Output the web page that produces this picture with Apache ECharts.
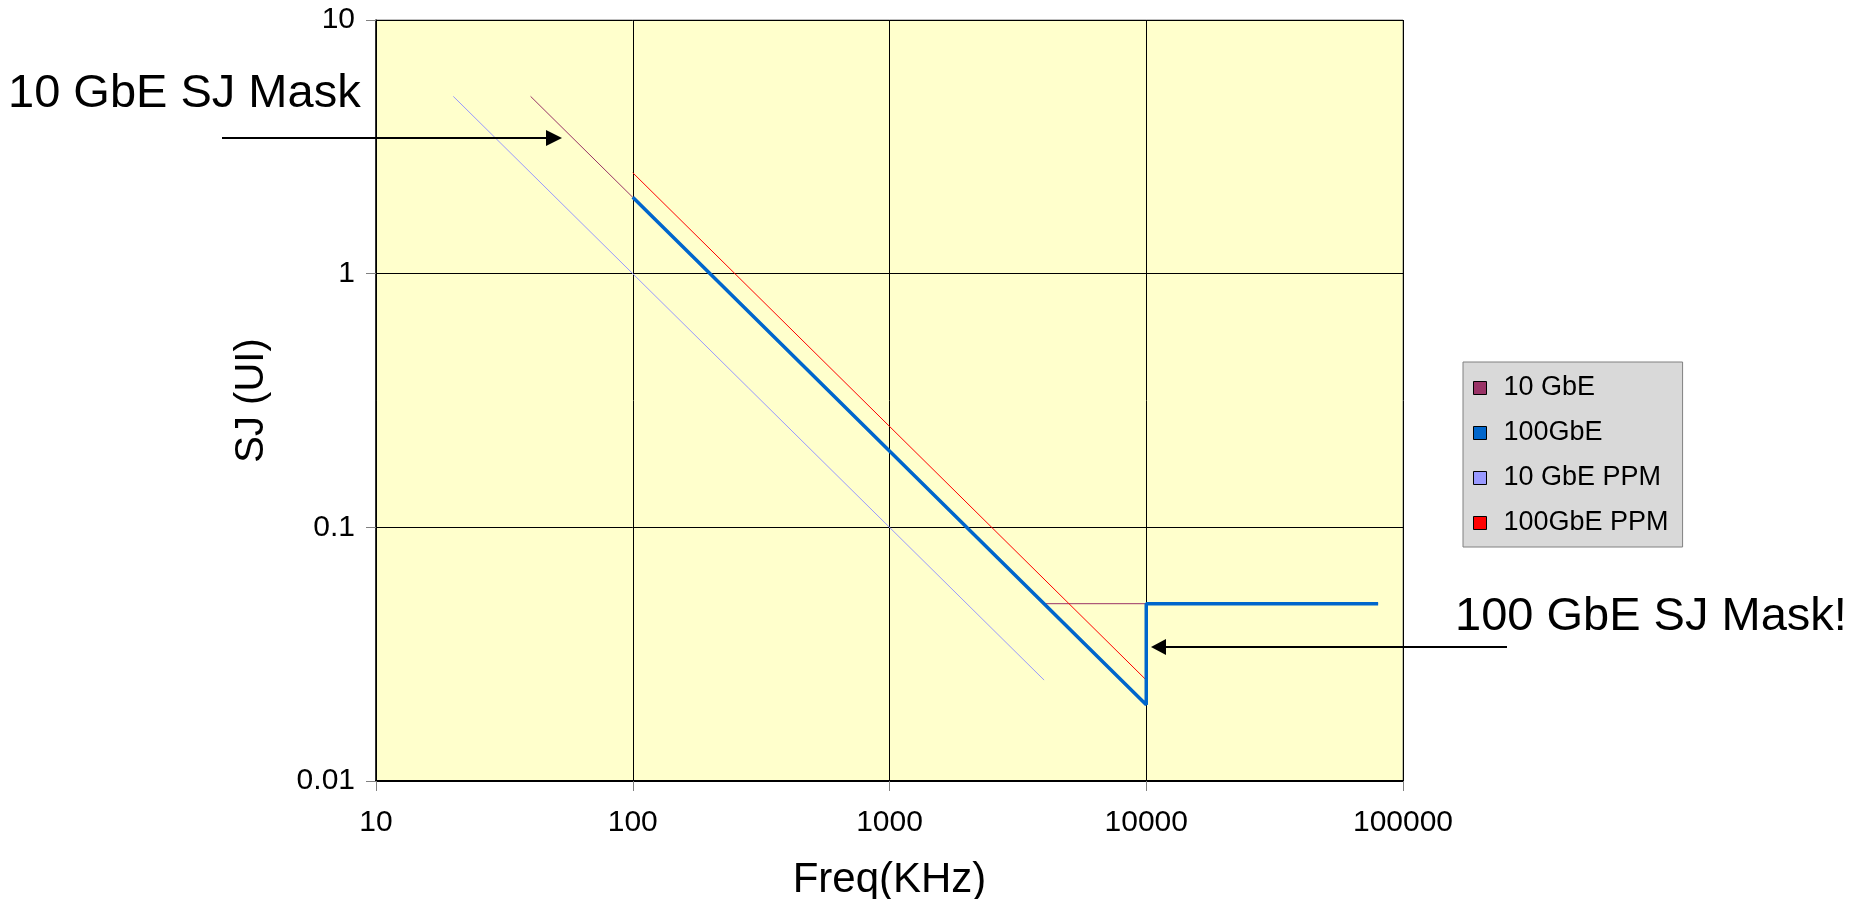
<!DOCTYPE html>
<html>
<head>
<meta charset="utf-8">
<title>SJ Mask</title>
<script src="https://cdn.jsdelivr.net/npm/echarts@6/dist/echarts.min.js"></script>
<style>
  html, body { margin: 0; padding: 0; background: #fff; }
  #chart { width: 1864px; height: 899px; }
</style>
</head>
<body>
<div id="chart"></div>
<script>
// [freq (KHz), SJ (UI)]
const gbe10 = [[40, 5], [4000, 0.05], [80000, 0.05]];
const gbe100 = [[100, 2], [10000, 0.02], [10000, 0.05], [80000, 0.05]];
const gbe10ppm = [[20, 5], [4000, 0.025]];
const gbe100ppm = [[100, 2.5], [10000, 0.025]];

const seriesNames = ['10 GbE', '100GbE', '10 GbE PPM', '100GbE PPM'];
const seriesColors = ['#993366', '#0066CC', '#9999FF', '#FF0000'];

const xTickLabels = { 1: '10', 2: '100', 3: '1000', 4: '10000', 5: '100000' };
const yTickLabels = { '-2': '0.01', '-1': '0.1', 0: '1', 1: '10' };

const FONT = '"Liberation Sans", Arial, sans-serif';

const chart = echarts.init(document.getElementById('chart'));

chart.setOption({
  animation: false,
  backgroundColor: '#fff',
  grid: {
    left: 376, right: 461, top: 20, bottom: 118,
    containLabel: false,
    outerBoundsMode: 'none',
    show: true,
    backgroundColor: '#FFFFCC',
    borderColor: '#808080',
    borderWidth: 1
  },
  legend: {
    orient: 'vertical',
    left: 1463,
    top: 362,
    data: seriesNames,
    icon: 'rect',
    itemWidth: 13,
    itemHeight: 13,
    itemGap: 17,
    padding: [12, 14, 10, 10],
    backgroundColor: '#D9D9D9',
    borderColor: '#808080',
    borderWidth: 1,
    borderRadius: 0,
    itemStyle: { borderColor: '#000', borderWidth: 1 },
    textStyle: {
      fontFamily: FONT, fontSize: 27, lineHeight: 28, color: '#000',
      padding: [0, 0, 0, 12]
    }
  },
  xAxis: {
    type: 'log',
    logBase: 10,
    min: 10,
    max: 100000,
    name: 'Freq(KHz)',
    nameLocation: 'middle',
    nameGap: 78,
    nameTextStyle: { fontFamily: FONT, fontSize: 42, color: '#000' },
    axisLine: { show: true, lineStyle: { color: '#000', width: 2 } },
    axisTick: { show: true, length: 10, lineStyle: { color: '#808080' } },
    axisLabel: {
      fontFamily: FONT, fontSize: 30, color: '#000', margin: 27,
      formatter: v => xTickLabels[Math.round(Math.log10(v))]
    },
    splitLine: { show: true, lineStyle: { color: '#000', width: 1 } },
    minorTick: { show: false }
  },
  yAxis: {
    type: 'log',
    logBase: 10,
    min: 0.01,
    max: 10,
    name: 'SJ (UI)',
    nameLocation: 'middle',
    nameGap: 104,
    nameRotate: 90,
    nameTextStyle: { fontFamily: FONT, fontSize: 40, color: '#000' },
    axisLine: { show: true, lineStyle: { color: '#000', width: 1.5 } },
    axisTick: { show: true, length: 10, lineStyle: { color: '#808080' } },
    axisLabel: {
      fontFamily: FONT, fontSize: 30, color: '#000', margin: 21,
      formatter: v => yTickLabels[Math.round(Math.log10(v))]
    },
    splitLine: { show: true, lineStyle: { color: '#000', width: 1 } }
  },
  series: [
    {
      name: seriesNames[2], type: 'line', data: gbe10ppm, symbol: 'none', z: 2,
      color: seriesColors[2], lineStyle: { width: 1, color: seriesColors[2] }
    },
    {
      name: seriesNames[0], type: 'line', data: gbe10, symbol: 'none', z: 3,
      color: seriesColors[0], lineStyle: { width: 1, color: seriesColors[0] }
    },
    {
      name: seriesNames[3], type: 'line', data: gbe100ppm, symbol: 'none', z: 4,
      color: seriesColors[3], lineStyle: { width: 1, color: seriesColors[3] }
    },
    {
      name: seriesNames[1], type: 'line', data: gbe100, symbol: 'none', z: 5,
      color: seriesColors[1], lineStyle: { width: 3.5, color: seriesColors[1] }
    }
  ],
  graphic: [
    {
      type: 'text', left: 8, top: 71, z: 10,
      style: { text: '10 GbE SJ Mask', font: '47px ' + FONT, fill: '#000' }
    },
    {
      type: 'line', z: 10,
      shape: { x1: 222, y1: 138, x2: 548, y2: 138 },
      style: { stroke: '#000', lineWidth: 2 }
    },
    {
      type: 'polygon', z: 10,
      shape: { points: [[562, 138], [546, 130], [546, 146]] },
      style: { fill: '#000' }
    },
    {
      type: 'text', left: 1455, top: 594, z: 10,
      style: { text: '100 GbE SJ Mask!', font: '47px ' + FONT, fill: '#000' }
    },
    {
      type: 'line', z: 10,
      shape: { x1: 1507, y1: 647, x2: 1164, y2: 647 },
      style: { stroke: '#000', lineWidth: 2 }
    },
    {
      type: 'polygon', z: 10,
      shape: { points: [[1151, 647], [1166, 639], [1166, 655]] },
      style: { fill: '#000' }
    }
  ]
});

window.addEventListener('resize', () => chart.resize());
</script>
</body>
</html>
